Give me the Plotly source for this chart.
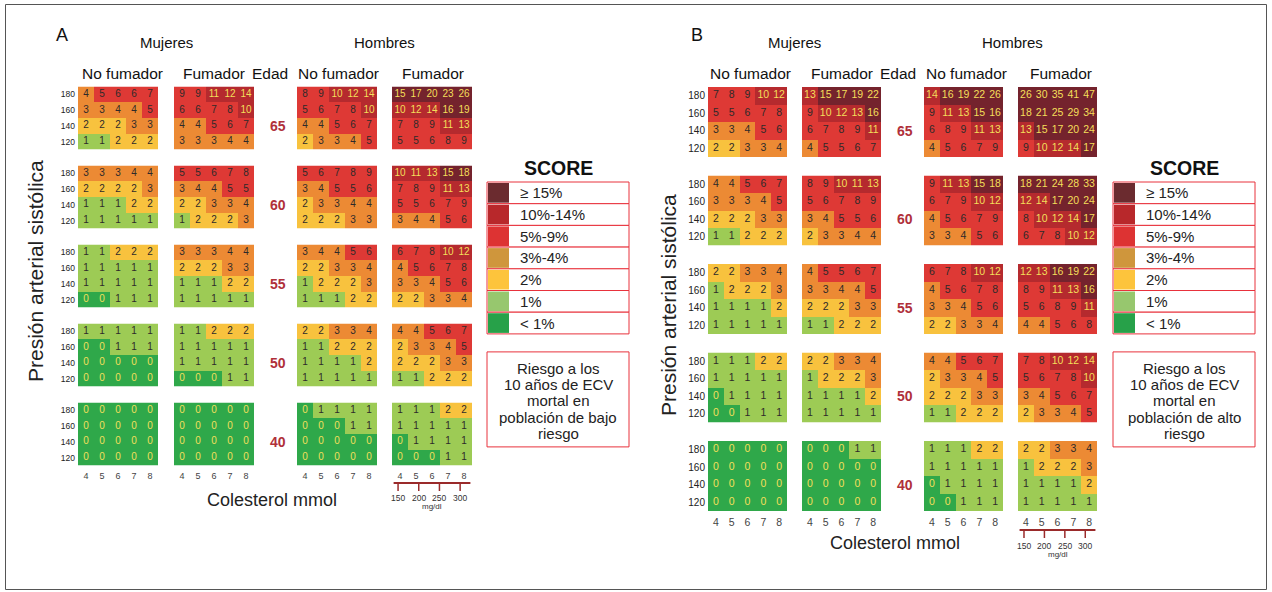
import plotly.graph_objects as go

W, H = 1272, 592

chol_mmol = [4, 5, 6, 7, 8]
sbp_rows = [180, 160, 140, 120]
ages = [65, 60, 55, 50, 40]
chol_mgdl = [150, 200, 250, 300]
group_labels = ["No fumador", "Fumador", "Edad", "No fumador", "Fumador"]
sex_labels = ["Mujeres", "Hombres"]
legend_labels = ["≥ 15%", "10%-14%", "5%-9%", "3%-4%", "2%", "1%", "< 1%"]
legend_colors = ["#6b2b2f", "#b8282b", "#dd3333", "#cf963c", "#fdc43c", "#97c76e", "#27a149"]
# cell colours by risk class: <1, 1, 2, 3-4, 5-9, 10-14, >=15
cell_colors = ["#2fa84a", "#9dcb55", "#f8c23e", "#ec8a34", "#de3935", "#b52a2e", "#74232d"]
note_low = ["Riesgo a los", "10 años de ECV", "mortal en", "población de bajo", "riesgo"]
note_high = ["Riesgo a los", "10 años de ECV", "mortal en", "población de alto", "riesgo"]

# ---- Panel A: low-risk population (rows SBP 180,160,140,120; cols chol 4..8) ----
low_women_nonsmoker = [
    [[4, 5, 6, 6, 7], [3, 3, 4, 4, 5], [2, 2, 2, 3, 3], [1, 1, 2, 2, 2]],
    [[3, 3, 3, 4, 4], [2, 2, 2, 2, 3], [1, 1, 1, 2, 2], [1, 1, 1, 1, 1]],
    [[1, 1, 2, 2, 2], [1, 1, 1, 1, 1], [1, 1, 1, 1, 1], [0, 0, 1, 1, 1]],
    [[1, 1, 1, 1, 1], [0, 0, 1, 1, 1], [0, 0, 0, 0, 0], [0, 0, 0, 0, 0]],
    [[0, 0, 0, 0, 0], [0, 0, 0, 0, 0], [0, 0, 0, 0, 0], [0, 0, 0, 0, 0]],
]
low_women_smoker = [
    [[9, 9, 11, 12, 14], [6, 6, 7, 8, 10], [4, 4, 5, 6, 7], [3, 3, 3, 4, 4]],
    [[5, 5, 6, 7, 8], [3, 4, 4, 5, 5], [2, 2, 3, 3, 4], [1, 2, 2, 2, 3]],
    [[3, 3, 3, 4, 4], [2, 2, 2, 3, 3], [1, 1, 1, 2, 2], [1, 1, 1, 1, 1]],
    [[1, 1, 2, 2, 2], [1, 1, 1, 1, 1], [1, 1, 1, 1, 1], [0, 0, 0, 1, 1]],
    [[0, 0, 0, 0, 0], [0, 0, 0, 0, 0], [0, 0, 0, 0, 0], [0, 0, 0, 0, 0]],
]
low_men_nonsmoker = [
    [[8, 9, 10, 12, 14], [5, 6, 7, 8, 10], [4, 4, 5, 6, 7], [2, 3, 3, 4, 5]],
    [[5, 6, 7, 8, 9], [3, 4, 5, 5, 6], [2, 3, 3, 4, 4], [2, 2, 2, 3, 3]],
    [[3, 4, 4, 5, 6], [2, 2, 3, 3, 4], [1, 2, 2, 2, 3], [1, 1, 1, 2, 2]],
    [[2, 2, 3, 3, 4], [1, 1, 2, 2, 2], [1, 1, 1, 1, 2], [1, 1, 1, 1, 1]],
    [[0, 1, 1, 1, 1], [0, 0, 0, 1, 1], [0, 0, 0, 0, 0], [0, 0, 0, 0, 0]],
]
low_men_smoker = [
    [[15, 17, 20, 23, 26], [10, 12, 14, 16, 19], [7, 8, 9, 11, 13], [5, 5, 6, 8, 9]],
    [[10, 11, 13, 15, 18], [7, 8, 9, 11, 13], [5, 5, 6, 7, 9], [3, 4, 4, 5, 6]],
    [[6, 7, 8, 10, 12], [4, 5, 6, 7, 8], [3, 3, 4, 5, 6], [2, 2, 3, 3, 4]],
    [[4, 4, 5, 6, 7], [2, 3, 3, 4, 5], [2, 2, 2, 3, 3], [1, 1, 2, 2, 2]],
    [[1, 1, 1, 2, 2], [1, 1, 1, 1, 1], [0, 1, 1, 1, 1], [0, 0, 0, 1, 1]],
]

# ---- Panel B: high-risk population ----
high_women_nonsmoker = [
    [[7, 8, 9, 10, 12], [5, 5, 6, 7, 8], [3, 3, 4, 5, 6], [2, 2, 3, 3, 4]],
    [[4, 4, 5, 6, 7], [3, 3, 3, 4, 5], [2, 2, 2, 3, 3], [1, 1, 2, 2, 2]],
    [[2, 2, 3, 3, 4], [1, 2, 2, 2, 3], [1, 1, 1, 1, 2], [1, 1, 1, 1, 1]],
    [[1, 1, 1, 2, 2], [1, 1, 1, 1, 1], [0, 1, 1, 1, 1], [0, 0, 1, 1, 1]],
    [[0, 0, 0, 0, 0], [0, 0, 0, 0, 0], [0, 0, 0, 0, 0], [0, 0, 0, 0, 0]],
]
high_women_smoker = [
    [[13, 15, 17, 19, 22], [9, 10, 12, 13, 16], [6, 7, 8, 9, 11], [4, 5, 5, 6, 7]],
    [[8, 9, 10, 11, 13], [5, 6, 7, 8, 9], [3, 4, 5, 5, 6], [2, 3, 3, 4, 4]],
    [[4, 5, 5, 6, 7], [3, 3, 4, 4, 5], [2, 2, 2, 3, 3], [1, 1, 2, 2, 2]],
    [[2, 2, 3, 3, 4], [1, 2, 2, 2, 3], [1, 1, 1, 1, 2], [1, 1, 1, 1, 1]],
    [[0, 0, 0, 1, 1], [0, 0, 0, 0, 0], [0, 0, 0, 0, 0], [0, 0, 0, 0, 0]],
]
high_men_nonsmoker = [
    [[14, 16, 19, 22, 26], [9, 11, 13, 15, 16], [6, 8, 9, 11, 13], [4, 5, 6, 7, 9]],
    [[9, 11, 13, 15, 18], [6, 7, 9, 10, 12], [4, 5, 6, 7, 9], [3, 3, 4, 5, 6]],
    [[6, 7, 8, 10, 12], [4, 5, 6, 7, 8], [3, 3, 4, 5, 6], [2, 2, 3, 3, 4]],
    [[4, 4, 5, 6, 7], [2, 3, 3, 4, 5], [2, 2, 2, 3, 3], [1, 1, 2, 2, 2]],
    [[1, 1, 1, 2, 2], [1, 1, 1, 1, 1], [0, 1, 1, 1, 1], [0, 0, 1, 1, 1]],
]
high_men_smoker = [
    [[26, 30, 35, 41, 47], [18, 21, 25, 29, 34], [13, 15, 17, 20, 24], [9, 10, 12, 14, 17]],
    [[18, 21, 24, 28, 33], [12, 14, 17, 20, 24], [8, 10, 12, 14, 17], [6, 7, 8, 10, 12]],
    [[12, 13, 16, 19, 22], [8, 9, 11, 13, 16], [5, 6, 8, 9, 11], [4, 4, 5, 6, 8]],
    [[7, 8, 10, 12, 14], [5, 6, 7, 8, 10], [3, 4, 5, 6, 7], [2, 3, 3, 4, 5]],
    [[2, 2, 3, 3, 4], [1, 2, 2, 2, 3], [1, 1, 1, 1, 2], [1, 1, 1, 1, 1]],
]

FONT = "Liberation Sans, Arial, sans-serif"
DARK = "#2e2a2a"
YELLOW = "#f3df5a"
AGE_RED = "#b0303a"
BOX_RED = "#e8323c"

PANELS = [
    dict(letter="A", data=[low_women_nonsmoker, low_women_smoker, low_men_nonsmoker, low_men_smoker],
         lefts=[78, 174, 297, 392], w=80, tops=[86.5, 165.5, 244.5, 323.5, 402.5], h=63,
         dx=0, letterx=62, cellfont=10, tickfont=8.5, agex=278, chol_title=(272, 500),
         ytitle=(35, 271), scale=(483, 491, 498, 506), legx=487, note=note_low),
    dict(letter="B", data=[high_women_nonsmoker, high_women_smoker, high_men_nonsmoker, high_men_smoker],
         lefts=[708, 802, 924, 1018], w=79, tops=[87, 175.5, 264, 352.5, 441], h=70,
         dx=628, letterx=697, cellfont=10.5, tickfont=10, agex=905, chol_title=(895, 543),
         ytitle=(668, 305), scale=(530, 538, 546, 554), legx=1113, note=note_high),
]


def risk_class(v):
    if v < 1:
        return 0
    if v == 1:
        return 1
    if v == 2:
        return 2
    if v <= 4:
        return 3
    if v <= 9:
        return 4
    if v <= 14:
        return 5
    return 6


colorscale = []
for i, c in enumerate(cell_colors):
    colorscale += [[i / 7, c], [(i + 1) / 7, c]]

fig = go.Figure()
layout = {}
annotations = []
shapes = []


def px_x(x):
    return x / W


def px_y(y):
    return 1 - y / H


def label(x, y, text, size, color="#111111", xanchor="center", **kw):
    d = dict(x=px_x(x), y=px_y(y), xref="paper", yref="paper", text=text,
             showarrow=False, xanchor=xanchor, yanchor="middle",
             font=dict(family=FONT, size=size, color=color))
    d.update(kw)
    return d


n = 0
for P in PANELS:
    ids = {}
    for g, grp in enumerate(P["data"]):
        for a, block in enumerate(grp):
            n += 1
            xk = "xaxis" if n == 1 else f"xaxis{n}"
            yk = "yaxis" if n == 1 else f"yaxis{n}"
            xr = "x" if n == 1 else f"x{n}"
            yr = "y" if n == 1 else f"y{n}"
            ids[(g, a)] = (xr, yr)
            left = P["lefts"][g]
            top = P["tops"][a]
            rows_bottom_up = list(reversed(block))
            sbp_bottom_up = list(reversed(sbp_rows))
            z = [[risk_class(v) for v in row] for row in rows_bottom_up]
            fig.add_trace(go.Heatmap(
                z=z, x=chol_mmol, y=sbp_bottom_up, colorscale=colorscale,
                zmin=-0.5, zmax=6.5, showscale=False, hoverinfo="skip",
                xaxis=xr, yaxis=yr))
            for col_sel, color in ((False, DARK), (True, YELLOW)):
                tx, ty, tt = [], [], []
                for r, row in enumerate(rows_bottom_up):
                    for c, v in enumerate(row):
                        light = (v == 0 or v >= 10)
                        if light == col_sel:
                            tx.append(chol_mmol[c])
                            ty.append(sbp_bottom_up[r])
                            tt.append(str(v))
                fig.add_trace(go.Scatter(
                    x=tx, y=ty, text=tt, mode="text", hoverinfo="skip",
                    textfont=dict(family=FONT, size=P["cellfont"], color=color),
                    showlegend=False, xaxis=xr, yaxis=yr))
            layout[xk] = dict(
                domain=[px_x(left), px_x(left + P["w"])], range=[3.5, 8.5],
                showgrid=False, zeroline=False, showline=False, ticks="",
                showticklabels=(a == len(ages) - 1), tickvals=chol_mmol,
                ticktext=[str(v) for v in chol_mmol], ticklabelstandoff=3,
                tickfont=dict(family=FONT, size=P["tickfont"] + 0.5, color="#444444"),
                anchor=yr, fixedrange=True)
            layout[yk] = dict(
                domain=[px_y(top + P["h"]), px_y(top)], range=[110, 190],
                showgrid=False, zeroline=False, showline=False, ticks="",
                showticklabels=(g == 0), tickvals=sbp_rows,
                ticktext=[str(v) for v in sbp_rows], ticklabelstandoff=2,
                tickfont=dict(family=FONT, size=P["tickfont"], color="#222222"),
                anchor=xr, fixedrange=True)
    # age labels
    for a, age in enumerate(ages):
        xr, yr = ids[(2, a)]
        annotations.append(dict(x=px_x(P["agex"]), xref="paper", y=140, yref=yr,
                                text=f"<b>{age}</b>", showarrow=False,
                                xanchor="center", yanchor="middle",
                                font=dict(family=FONT, size=14, color=AGE_RED)))
    dx = P["dx"]
    # headers
    annotations.append(label(P["letterx"], 35, P["letter"], 18))
    for s, sx in zip(sex_labels, (166, 384)):
        annotations.append(label(sx + dx, 42, s, 15))
    for s, sx in zip(group_labels, (122, 214, 270, 338, 433)):
        annotations.append(label(sx + dx, 73, s, 15.5))
    # axis titles
    annotations.append(label(P["chol_title"][0], P["chol_title"][1], "Colesterol mmol", 18,
                             color="#222222"))
    annotations.append(label(P["ytitle"][0], P["ytitle"][1], "Presión arterial sistólica", 21,
                             color="#222222", textangle=-90))
    # mg/dl scale under men smoker
    xr, yr = ids[(3, len(ages) - 1)]
    ly, ty, lab_y, unit_y = P["scale"]
    shapes.append(dict(type="line", xref=xr, yref="paper", x0=3.6, x1=8.4,
                       y0=px_y(ly), y1=px_y(ly), line=dict(color="#9a2a2a", width=2)))
    for mg in chol_mgdl:
        mm = mg / 38.67
        shapes.append(dict(type="line", xref=xr, yref="paper", x0=mm, x1=mm,
                           y0=px_y(ly), y1=px_y(ty), line=dict(color="#9a2a2a", width=1.5)))
        annotations.append(dict(x=mm, xref=xr, y=px_y(lab_y), yref="paper", text=str(mg),
                                showarrow=False, xanchor="center", yanchor="middle",
                                font=dict(family=FONT, size=8.5, color="#333333")))
    annotations.append(dict(x=6.0, xref=xr, y=px_y(unit_y), yref="paper", text="mg/dl",
                            showarrow=False, xanchor="center", yanchor="middle",
                            font=dict(family=FONT, size=8, color="#333333")))
    # SCORE legend
    lx = P["legx"]
    lw = 142
    ltop = 182
    rh = 21.7
    annotations.append(label(lx + lw / 2, 168, "<b>SCORE</b>", 19.5))
    for i, (lab, col) in enumerate(zip(legend_labels, legend_colors)):
        y0 = ltop + i * rh
        shapes.append(dict(type="rect", xref="paper", yref="paper",
                           x0=px_x(lx), x1=px_x(lx + lw), y0=px_y(y0), y1=px_y(y0 + rh),
                           line=dict(color=BOX_RED, width=1), fillcolor="white"))
        shapes.append(dict(type="rect", xref="paper", yref="paper",
                           x0=px_x(lx + 1), x1=px_x(lx + 22), y0=px_y(y0 + 1), y1=px_y(y0 + rh - 1),
                           line=dict(width=0), fillcolor=col))
        annotations.append(label(lx + 31, y0 + rh / 2, lab, 15, color="#222222", xanchor="left"))
    # note box
    ntop = ltop + 7 * rh + 18
    shapes.append(dict(type="rect", xref="paper", yref="paper",
                       x0=px_x(lx), x1=px_x(lx + lw), y0=px_y(ntop), y1=px_y(ntop + 95),
                       line=dict(color=BOX_RED, width=1)))
    for k, line in enumerate(P["note"]):
        annotations.append(label(lx + lw / 2, ntop + 16.5 + k * 16.2, line, 15, color="#222222"))

# outer frame
shapes.append(dict(type="rect", xref="paper", yref="paper",
                   x0=px_x(5.5), x1=px_x(1266.5), y0=px_y(4.5), y1=px_y(589.5),
                   line=dict(color="#555555", width=1)))

fig.update_layout(
    width=W, height=H, margin=dict(l=0, r=0, t=0, b=0),
    paper_bgcolor="white", plot_bgcolor="white", showlegend=False,
    annotations=annotations, shapes=shapes, **layout)

fig.write_html("out.html", config={"displayModeBar": False},
               post_script="document.body.style.margin='0px';document.body.style.overflow='hidden';")
